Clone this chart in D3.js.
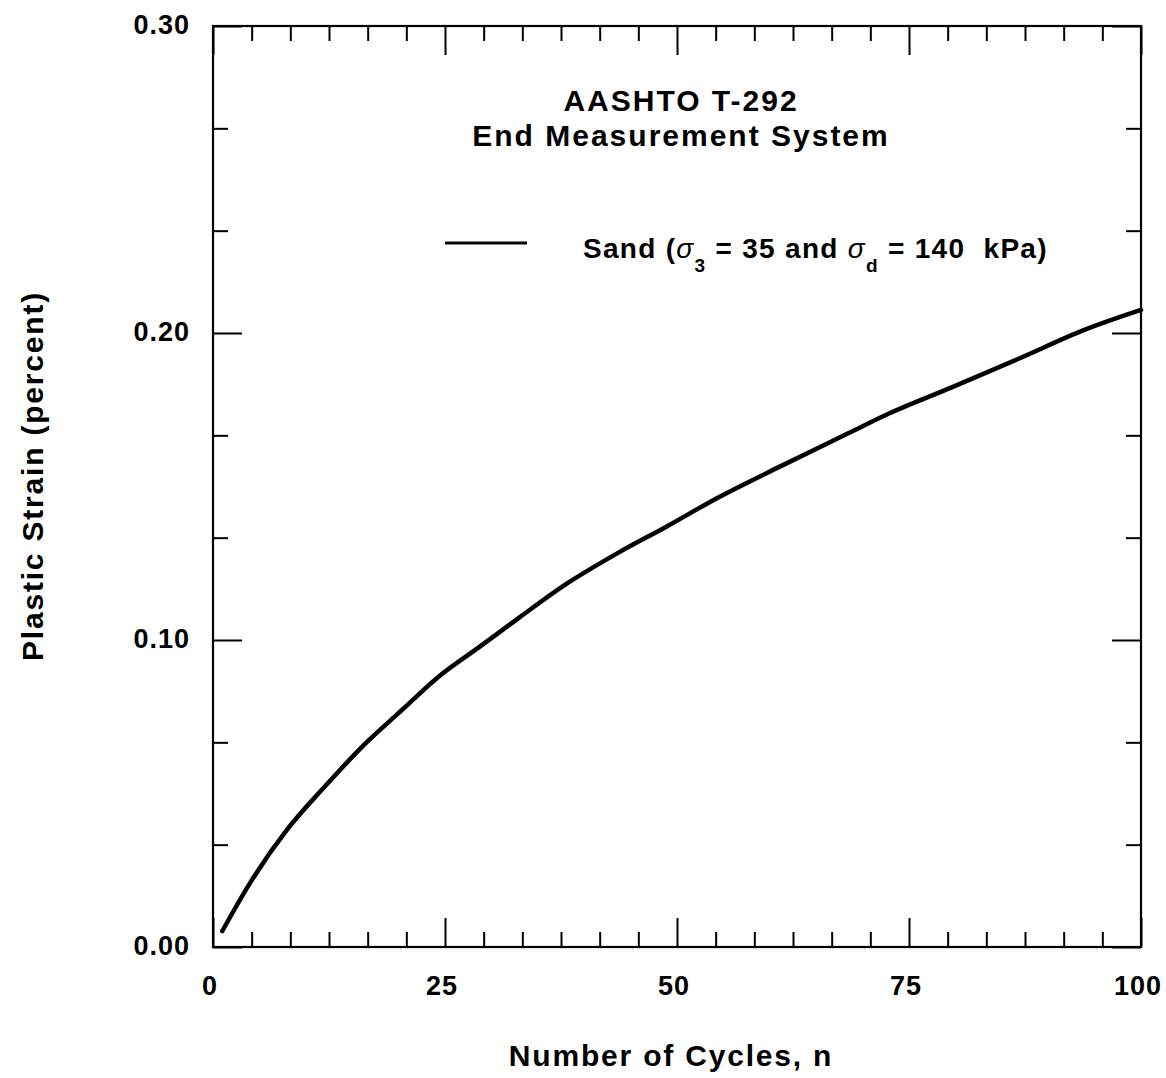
<!DOCTYPE html>
<html>
<head>
<meta charset="utf-8">
<script src="https://cdn.jsdelivr.net/npm/d3@7"></script>
<style>
  html, body { margin: 0; padding: 0; background: #fff; }
  svg { display: block; }
  text { font-family: "Liberation Sans", Arial, Helvetica, sans-serif; font-weight: bold; fill: #000; }
</style>
</head>
<body>
<svg id="chart" width="1166" height="1078"></svg>
<script>
// ---- data ----
const cycles = [1, 4, 8, 12, 16.3, 20.4, 24.5, 28.6, 33, 38.2, 43.6, 48.9, 54.3, 61.3, 68.5, 72.5, 79.6, 86.8, 93.9, 100];
const strain = [0.0052, 0.0209, 0.0383, 0.0521, 0.0659, 0.0773, 0.0885, 0.0975, 0.1073, 0.1185, 0.1283, 0.1370, 0.1462, 0.1568, 0.1674, 0.1733, 0.1823, 0.1916, 0.2010, 0.2075];
const xTickLabels = ["0", "25", "50", "75", "100"];
const yTickLabels = ["0.00", "0.10", "0.20", "0.30"];
const titleLines = ["AASHTO T-292", "End Measurement System"];
const seriesName = "Sand";

// ---- layout ----
const svg = d3.select("#chart");
const L = 213, R = 1141, T = 26, B = 947;
const x = d3.scaleLinear().domain([0, 100]).range([L, R]);
const y = d3.scaleLinear().domain([0, 0.3]).range([B, T]);

const xMinor = d3.range(0, 25).map(i => i * 100 / 24);
const yMinor = d3.range(0, 10).map(i => i * 0.3 / 9);
const isMajorX = v => Math.abs(v / 25 - Math.round(v / 25)) < 1e-6;
const isMajorY = v => Math.abs(v / 0.1 - Math.round(v / 0.1)) < 1e-6;

// ticks via d3 axes (inward)
function tickAxis(axisFn, scale, vals, major, lenMajor, lenMinor, transform) {
  const gMaj = svg.append("g").attr("transform", transform)
    .call(axisFn(scale).tickValues(vals.filter(major)).tickSize(-lenMajor).tickFormat(""));
  const gMin = svg.append("g").attr("transform", transform)
    .call(axisFn(scale).tickValues(vals.filter(v => !major(v))).tickSize(-lenMinor).tickFormat(""));
  [gMaj, gMin].forEach(g => {
    g.select(".domain").remove();
    g.selectAll("line").attr("stroke", "#000").attr("stroke-width", 2);
  });
}
tickAxis(d3.axisBottom, x, xMinor, isMajorX, 29, 15, `translate(0,${B})`);
tickAxis(d3.axisTop, x, xMinor, isMajorX, 29, 15, `translate(0,${T})`);
tickAxis(d3.axisLeft, y, yMinor, isMajorY, 29, 15, `translate(${L},0)`);
tickAxis(d3.axisRight, y, yMinor, isMajorY, 29, 15, `translate(${R},0)`);

// frame
svg.append("rect").attr("x", L).attr("y", T).attr("width", R - L).attr("height", B - T)
  .attr("fill", "none").attr("stroke", "#000").attr("stroke-width", 2.2);

// tick labels
svg.append("g").selectAll("text").data(xTickLabels).join("text")
  .attr("x", d => x(+d) - 3).attr("y", 995)
  .attr("text-anchor", "middle").style("font-size", "27px").style("letter-spacing", "1px")
  .text(d => d);
svg.append("g").selectAll("text").data(yTickLabels).join("text")
  .attr("x", 190).attr("y", d => y(+d) + 8)
  .attr("text-anchor", "end").style("font-size", "27px").style("letter-spacing", "1px")
  .text(d => d);

// axis titles
svg.append("text").attr("x", 671).attr("y", 1066).attr("text-anchor", "middle")
  .style("font-size", "30px").style("letter-spacing", "1.8px").text("Number of Cycles, n");
svg.append("text").attr("transform", "translate(43,476) rotate(-90)").attr("text-anchor", "middle")
  .style("font-size", "30px").style("letter-spacing", "1.8px").text("Plastic Strain (percent)");

// chart title
svg.append("g").selectAll("text").data(titleLines).join("text")
  .attr("x", 681).attr("y", (d, i) => 111 + i * 35)
  .attr("text-anchor", "middle").style("font-size", "30px").style("letter-spacing", "2px")
  .text(d => d);

// legend
svg.append("line").attr("x1", 445).attr("x2", 527).attr("y1", 243).attr("y2", 243)
  .attr("stroke", "#000").attr("stroke-width", 3);
const lt = svg.append("text").attr("x", 583).attr("y", 258)
  .style("font-size", "28px").style("letter-spacing", "1.3px");
lt.append("tspan").text(seriesName + " (");
lt.append("tspan").style("font-style", "italic").style("font-weight", "normal").text("σ");
lt.append("tspan").attr("dy", 14).style("font-size", "19px").text("3");
lt.append("tspan").attr("dy", -14).text(" = 35 and ");
lt.append("tspan").style("font-style", "italic").style("font-weight", "normal").text("σ");
lt.append("tspan").attr("dy", 14).style("font-size", "19px").text("d");
lt.append("tspan").attr("dy", -14).text(" = 140\u00a0 kPa)");

// curve
const pts = cycles.map((c, i) => [c, strain[i]]);
const line = d3.line().x(d => x(d[0])).y(d => y(d[1])).curve(d3.curveMonotoneX);
svg.append("path").datum(pts).attr("d", line)
  .attr("fill", "none").attr("stroke", "#000").attr("stroke-width", 4.5)
  .attr("stroke-linecap", "round").attr("stroke-linejoin", "round");
</script>
</body>
</html>
